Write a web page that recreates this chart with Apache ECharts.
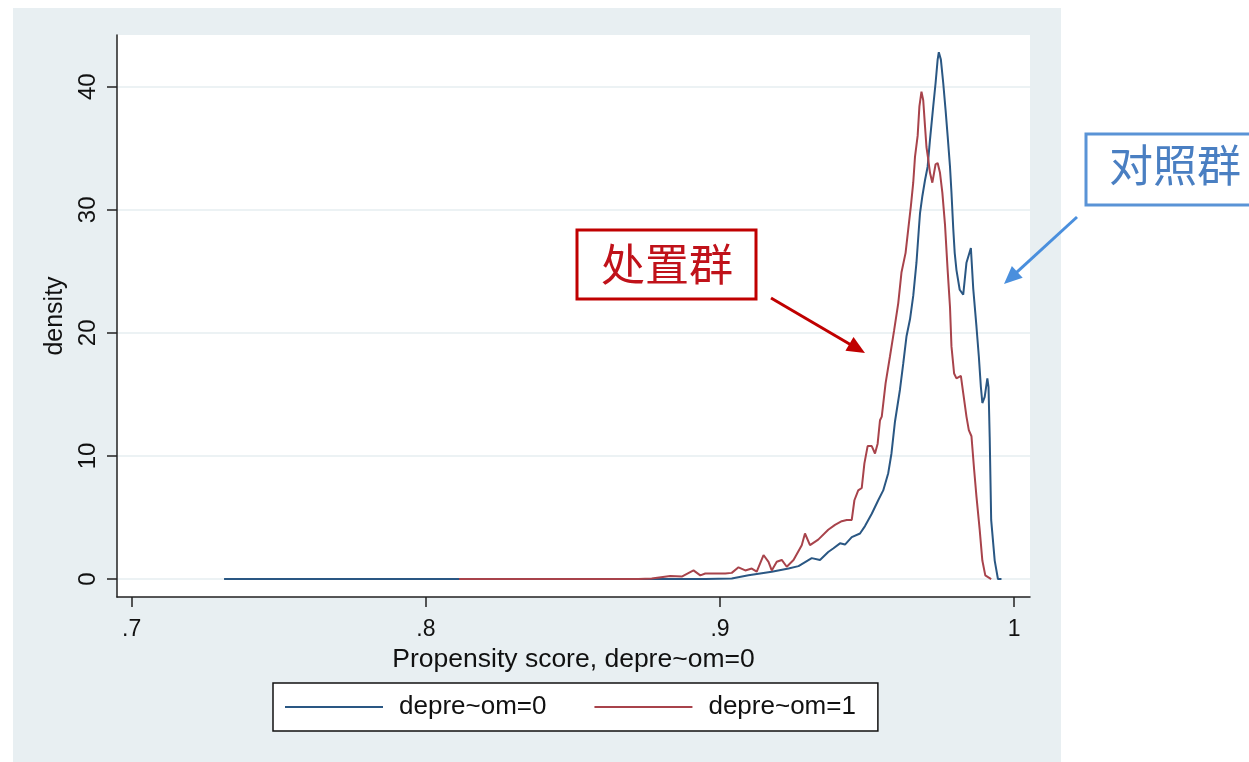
<!DOCTYPE html>
<html><head><meta charset="utf-8">
<script src="https://cdn.jsdelivr.net/npm/echarts@6/dist/echarts.min.js"></script>
<style>html,body{margin:0;padding:0;background:#fff;}#c{width:1249px;height:762px;}</style>
</head><body><div id="c"></div>
<script>
// depre~om=0 (control group) kernel density
const blueX = [0.7314, 0.8113, 0.8680, 0.8684, 0.8690, 0.8770, 0.8774, 0.8780, 0.8950, 0.9040, 0.9097, 0.9176, 0.9233, 0.9267, 0.9312, 0.9340, 0.9368, 0.9386, 0.9408, 0.9425, 0.9448, 0.9476, 0.9493, 0.9516, 0.9538, 0.9555, 0.9572, 0.9583, 0.9595, 0.9612, 0.9623, 0.9634, 0.9646, 0.9657, 0.9668, 0.9676, 0.9680, 0.9688, 0.9697, 0.9706, 0.9714, 0.9725, 0.9733, 0.9740, 0.9744, 0.9751, 0.9759, 0.9767, 0.9774, 0.9782, 0.9787, 0.9793, 0.9798, 0.9804, 0.9815, 0.9827, 0.9838, 0.9853, 0.9861, 0.9872, 0.9880, 0.9887, 0.9892, 0.9900, 0.9909, 0.9913, 0.9917, 0.9922, 0.9934, 0.9945, 0.9957];
const blueY = [0, 0, 0, 0.15, 0, 0, 0.15, 0, 0, 0.05, 0.3, 0.6, 0.85, 1.05, 1.7, 1.55, 2.2, 2.5, 2.9, 2.8, 3.4, 3.7, 4.3, 5.3, 6.4, 7.2, 8.6, 10.2, 12.8, 15.4, 17.5, 19.7, 21.1, 23.0, 25.7, 28.4, 29.7, 31.1, 32.4, 33.5, 35.7, 38.4, 40.3, 42.2, 42.8, 42.2, 40.3, 38.1, 36.0, 33.5, 31.4, 28.5, 26.5, 25.1, 23.5, 23.1, 25.7, 26.9, 23.6, 20.5, 18.1, 15.6, 14.3, 14.8, 16.3, 15.6, 11.5, 4.8, 1.5, 0, 0];
// depre~om=1 (treatment group) kernel density
const redX = [0.8113, 0.8723, 0.8768, 0.8831, 0.8870, 0.8910, 0.8933, 0.8950, 0.9018, 0.9040, 0.9063, 0.9086, 0.9108, 0.9125, 0.9148, 0.9165, 0.9176, 0.9193, 0.9210, 0.9227, 0.9250, 0.9278, 0.9289, 0.9306, 0.9334, 0.9368, 0.9391, 0.9414, 0.9431, 0.9448, 0.9457, 0.9470, 0.9482, 0.9491, 0.9502, 0.9516, 0.9527, 0.9536, 0.9544, 0.9550, 0.9563, 0.9578, 0.9592, 0.9606, 0.9617, 0.9631, 0.9640, 0.9649, 0.9657, 0.9663, 0.9672, 0.9678, 0.9685, 0.9691, 0.9697, 0.9702, 0.9708, 0.9714, 0.9722, 0.9733, 0.9740, 0.9748, 0.9756, 0.9765, 0.9774, 0.9782, 0.9787, 0.9796, 0.9804, 0.9819, 0.9827, 0.9838, 0.9846, 0.9855, 0.9864, 0.9872, 0.9883, 0.9892, 0.9902, 0.9922];
const redY = [0, 0, 0.05, 0.25, 0.2, 0.7, 0.3, 0.45, 0.45, 0.5, 0.95, 0.7, 0.85, 0.6, 1.95, 1.4, 0.7, 1.4, 1.55, 1.0, 1.55, 2.75, 3.7, 2.75, 3.2, 4.0, 4.4, 4.7, 4.8, 4.8, 6.4, 7.2, 7.4, 9.4, 10.8, 10.8, 10.2, 11.0, 12.9, 13.2, 15.9, 18.1, 20.2, 22.4, 24.9, 26.5, 28.4, 30.3, 32.2, 34.3, 36.0, 38.4, 39.6, 38.9, 36.8, 35.1, 34.1, 33.0, 32.2, 33.7, 33.8, 33.0, 31.4, 28.8, 25.1, 22.1, 18.9, 16.7, 16.3, 16.5, 15.1, 13.2, 12.1, 11.6, 8.9, 6.7, 4.0, 1.5, 0.3, 0];
const seriesNames = ['depre~om=0', 'depre~om=1'];
const xTicks = [0.7, 0.8, 0.9, 1.0];
const yTicks = [0, 10, 20, 30, 40];
const xTitle = 'Propensity score, depre~om=0';
const yTitle = 'density';
const treatLabel = '处置群';
const controlLabel = '对照群';

const zip = (xs, ys) => xs.map((x, i) => [x, ys[i]]);
const FONT = "'Liberation Sans', Arial, sans-serif";
const CJK = "'Noto Sans CJK SC', sans-serif";

function arrow(x1, y1, x2, y2, color) {
  const dx = x2 - x1, dy = y2 - y1, L = Math.hypot(dx, dy), ux = dx / L, uy = dy / L;
  const hl = 18, hw = 8;
  const bx = x2 - ux * hl, by = y2 - uy * hl;
  return [
    {type: 'line', z: 100, shape: {x1: x1, y1: y1, x2: bx + ux * 2, y2: by + uy * 2}, style: {stroke: color, lineWidth: 3}},
    {type: 'polygon', z: 100, shape: {points: [[x2, y2], [bx - uy * hw, by + ux * hw], [bx + uy * hw, by - ux * hw]]}, style: {fill: color}}
  ];
}

const chart = echarts.init(document.getElementById('c'), null, {renderer: 'canvas'});
chart.setOption({
  backgroundColor: '#ffffff',
  animation: false,
  graphic: [
    {type: 'rect', z: -100, shape: {x: 13, y: 8, width: 1048, height: 754}, style: {fill: '#e8eff2'}},
    {type: 'rect', z: -99, shape: {x: 117, y: 35, width: 913, height: 562}, style: {fill: '#ffffff'}},
    {type: 'rect', z: 100, shape: {x: 577, y: 230, width: 179, height: 69}, style: {fill: '#ffffff', stroke: '#c00000', lineWidth: 3}},
    {type: 'text', z: 101, x: 667, y: 264, style: {text: treatLabel, fill: '#c0121a', font: '44px ' + CJK, textAlign: 'center', textVerticalAlign: 'middle'}},
    {type: 'rect', z: 100, shape: {x: 1086, y: 134, width: 190, height: 71}, style: {fill: '#ffffff', stroke: '#5a93d6', lineWidth: 3}},
    {type: 'text', z: 101, x: 1175, y: 165, style: {text: controlLabel, fill: '#4a7fc2', font: '44px ' + CJK, textAlign: 'center', textVerticalAlign: 'middle'}},
    ...arrow(771, 298, 865, 353, '#c00000'),
    ...arrow(1077, 217, 1004, 284, '#4a8fdd')
  ],
  grid: {left: 117, top: 35, width: 913, height: 562, containLabel: false},
  legend: {
    left: 273, top: 683,
    data: seriesNames,
    orient: 'horizontal',
    backgroundColor: '#ffffff',
    borderColor: '#111',
    borderWidth: 1.5,
    borderRadius: 0,
    padding: [11, 22, 11, 12],
    itemGap: 48,
    itemWidth: 98,
    itemHeight: 2,
    icon: 'rect',
    textStyle: {fontFamily: FONT, fontSize: 26, color: '#111', padding: [0, 0, 0, 11]}
  },
  xAxis: {
    type: 'value', min: 0.695, max: 1.0054,
    name: xTitle, nameLocation: 'middle', nameGap: 46,
    nameTextStyle: {fontFamily: FONT, fontSize: 26.5, color: '#111'},
    axisLine: {show: true, onZero: false, lineStyle: {color: '#222', width: 1.5}},
    axisTick: {show: true, length: 10, customValues: xTicks, lineStyle: {color: '#222', width: 1.5}},
    axisLabel: {customValues: xTicks, margin: 21, fontFamily: FONT, fontSize: 23, color: '#111',
      formatter: v => (Math.abs(v - 1) < 1e-9 ? '1' : String(Math.round(v * 10) / 10).replace(/^0\./, '.'))},
    splitLine: {show: false}
  },
  yAxis: {
    type: 'value', min: -1.46, max: 44.2,
    name: yTitle, nameLocation: 'middle', nameGap: 47, nameRotate: 90,
    nameTextStyle: {fontFamily: FONT, fontSize: 25, color: '#111'},
    axisLine: {show: true, onZero: false, lineStyle: {color: '#222', width: 1.5}},
    axisTick: {show: true, length: 10, customValues: yTicks, lineStyle: {color: '#222', width: 1.5}},
    axisLabel: {customValues: yTicks, rotate: 90, margin: 17, fontFamily: FONT, fontSize: 24, color: '#111'},
    splitLine: {show: true, lineStyle: {color: '#e6eef1', width: 1.5}}
  },
  series: [
    {name: seriesNames[0], type: 'line', data: zip(blueX, blueY), showSymbol: false, symbol: 'none',
      z: 3, color: '#2a5783', lineStyle: {color: '#2a5783', width: 2}},
    {name: seriesNames[1], type: 'line', data: zip(redX, redY), showSymbol: false, symbol: 'none',
      z: 4, color: '#a8434b', lineStyle: {color: '#a8434b', width: 2}}
  ]
});
</script></body></html>
